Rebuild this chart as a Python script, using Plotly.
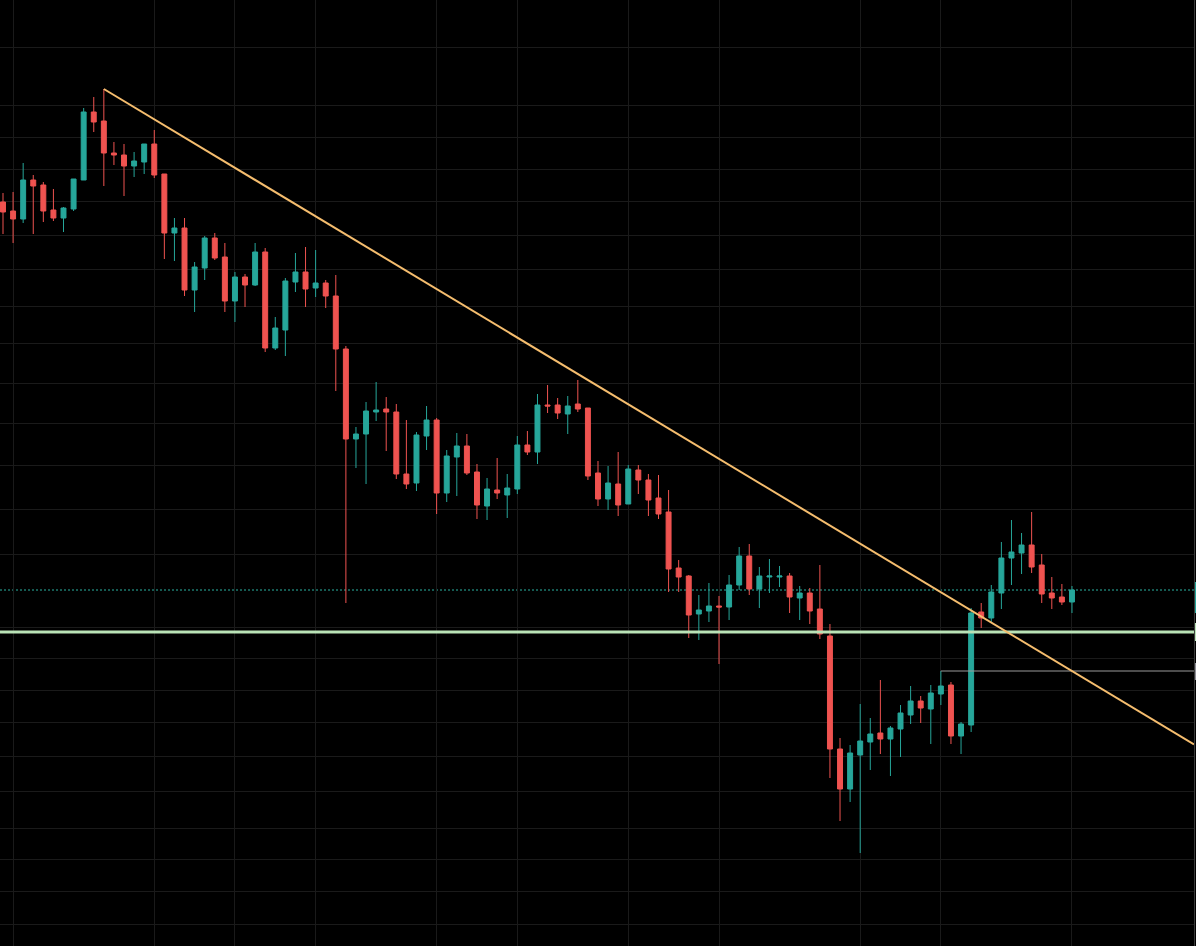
import plotly.graph_objects as go

# Candle index (one per bar)
idx = list(range(107))

opens = [1.798, 1.789, 1.781, 1.820, 1.815, 1.790, 1.782, 1.791, 1.820, 1.888,
         1.879, 1.847, 1.845, 1.834, 1.838, 1.856, 1.826, 1.767, 1.772, 1.710,
         1.732, 1.762, 1.743, 1.699, 1.723, 1.715, 1.748, 1.652, 1.670, 1.718,
         1.728, 1.712, 1.717, 1.704, 1.651, 1.561, 1.566, 1.588, 1.591, 1.588,
         1.526, 1.517, 1.564, 1.580, 1.507, 1.543, 1.554, 1.528, 1.494, 1.510,
         1.505, 1.511, 1.555, 1.548, 1.595, 1.595, 1.586, 1.596, 1.592, 1.527,
         1.501, 1.516, 1.496, 1.530, 1.520, 1.502, 1.488, 1.432, 1.424, 1.386,
         1.389, 1.394, 1.393, 1.415, 1.444, 1.411, 1.423, 1.423, 1.424, 1.402,
         1.407, 1.391, 1.364, 1.251, 1.211, 1.245, 1.258, 1.267, 1.261, 1.271,
         1.285, 1.299, 1.291, 1.306, 1.315, 1.264, 1.275, 1.388, 1.382, 1.407,
         1.442, 1.447, 1.455, 1.435, 1.407, 1.403, 1.398]
highs = [1.807, 1.808, 1.837, 1.825, 1.818, 1.811, 1.793, 1.821, 1.892, 1.903,
         1.911, 1.858, 1.856, 1.848, 1.856, 1.870, 1.826, 1.782, 1.782, 1.738,
         1.764, 1.767, 1.757, 1.728, 1.726, 1.757, 1.752, 1.683, 1.722, 1.747,
         1.753, 1.750, 1.720, 1.725, 1.654, 1.573, 1.598, 1.618, 1.603, 1.596,
         1.580, 1.568, 1.594, 1.582, 1.550, 1.567, 1.566, 1.536, 1.522, 1.542,
         1.526, 1.564, 1.569, 1.606, 1.615, 1.602, 1.604, 1.620, 1.592, 1.539,
         1.534, 1.548, 1.535, 1.535, 1.526, 1.525, 1.510, 1.440, 1.425, 1.405,
         1.417, 1.404, 1.425, 1.453, 1.456, 1.433, 1.441, 1.434, 1.427, 1.414,
         1.412, 1.435, 1.376, 1.262, 1.255, 1.296, 1.282, 1.320, 1.274, 1.295,
         1.314, 1.304, 1.315, 1.329, 1.318, 1.278, 1.392, 1.397, 1.415, 1.458,
         1.480, 1.467, 1.488, 1.446, 1.423, 1.416, 1.414]
lows = [1.766, 1.757, 1.777, 1.766, 1.778, 1.779, 1.768, 1.789, 1.820, 1.868,
        1.814, 1.835, 1.804, 1.823, 1.826, 1.822, 1.741, 1.739, 1.704, 1.688,
        1.720, 1.740, 1.688, 1.678, 1.693, 1.714, 1.648, 1.650, 1.644, 1.708,
        1.693, 1.703, 1.692, 1.609, 1.397, 1.532, 1.516, 1.579, 1.549, 1.521,
        1.511, 1.509, 1.550, 1.486, 1.498, 1.504, 1.525, 1.481, 1.480, 1.501,
        1.482, 1.506, 1.545, 1.536, 1.587, 1.581, 1.566, 1.588, 1.520, 1.494,
        1.490, 1.484, 1.496, 1.506, 1.484, 1.481, 1.408, 1.408, 1.362, 1.360,
        1.378, 1.336, 1.380, 1.410, 1.405, 1.392, 1.407, 1.413, 1.387, 1.380,
        1.376, 1.361, 1.222, 1.179, 1.198, 1.147, 1.230, 1.246, 1.224, 1.243,
        1.276, 1.277, 1.256, 1.295, 1.256, 1.246, 1.268, 1.372, 1.377, 1.391,
        1.415, 1.426, 1.427, 1.397, 1.391, 1.395, 1.387]
closes = [1.788, 1.781, 1.820, 1.814, 1.789, 1.782, 1.792, 1.821, 1.888, 1.878,
          1.847, 1.845, 1.834, 1.839, 1.856, 1.825, 1.767, 1.772, 1.710, 1.733,
          1.762, 1.742, 1.699, 1.723, 1.715, 1.748, 1.652, 1.672, 1.719, 1.728,
          1.711, 1.717, 1.704, 1.651, 1.561, 1.566, 1.589, 1.590, 1.588, 1.526,
          1.516, 1.565, 1.580, 1.507, 1.544, 1.554, 1.527, 1.495, 1.511, 1.507,
          1.512, 1.555, 1.548, 1.595, 1.594, 1.587, 1.594, 1.591, 1.524, 1.501,
          1.517, 1.495, 1.531, 1.520, 1.500, 1.486, 1.431, 1.423, 1.385, 1.390,
          1.394, 1.393, 1.415, 1.444, 1.411, 1.424, 1.424, 1.424, 1.403, 1.407,
          1.389, 1.366, 1.251, 1.211, 1.247, 1.259, 1.266, 1.261, 1.272, 1.287,
          1.299, 1.292, 1.307, 1.314, 1.264, 1.276, 1.387, 1.382, 1.408, 1.442,
          1.448, 1.455, 1.433, 1.406, 1.402, 1.398, 1.410]

# Drawings
trend_x = [10, 106]
trend_y = [1.911, 1.329]
support_level = 1.368
last_price = 1.410
resist_start = 93
resist_level = 1.329

# Grid positions
grid_x = [1, 15, 23, 31, 43, 51, 62, 71, 85, 93, 106]
grid_y = [1.953, 1.895, 1.863, 1.831, 1.799, 1.765, 1.731, 1.694, 1.657, 1.617,
          1.577, 1.535, 1.491, 1.446, 1.373, 1.342, 1.310, 1.278, 1.244,
          1.209, 1.172, 1.141, 1.109, 1.076]

X_RANGE = [-0.297, 118.1]
Y_RANGE = [1.054, 2.0]

UP = "#26a69a"
DOWN = "#ef5350"

fig = go.Figure()
fig.add_trace(go.Candlestick(
    x=idx, open=opens, high=highs, low=lows, close=closes,
    increasing=dict(line=dict(color=UP, width=1), fillcolor=UP),
    decreasing=dict(line=dict(color=DOWN, width=1), fillcolor=DOWN),
    whiskerwidth=0, hoverinfo="skip", showlegend=False,
))

# extend trendline to right edge
slope = (trend_y[1] - trend_y[0]) / (trend_x[1] - trend_x[0])
x_end = X_RANGE[1]
y_end = trend_y[0] + slope * (x_end - trend_x[0])

shapes = []
# last price dotted line
shapes.append(dict(type="line", xref="paper", x0=0, x1=1, yref="y", y0=last_price, y1=last_price,
                   line=dict(color="#2bb3a3", width=1, dash="2px,2px"), layer="below"))
# support line
shapes.append(dict(type="line", xref="paper", x0=0, x1=1, yref="y", y0=support_level, y1=support_level,
                   line=dict(color="#b9e2b6", width=3)))
# grey horizontal ray
shapes.append(dict(type="line", xref="x", x0=resist_start, x1=x_end, yref="y", y0=resist_level, y1=resist_level,
                   line=dict(color="#9a9a9a", width=1)))
# trendline
shapes.append(dict(type="line", xref="x", x0=trend_x[0], x1=x_end, yref="y", y0=trend_y[0], y1=y_end,
                   line=dict(color="#f5bd6e", width=2)))
# right-edge price tags (cut off)
shapes.append(dict(type="rect", xref="paper", x0=1.0008, x1=1.003, yref="y", y0=1.387, y1=1.418,
                   fillcolor=UP, line=dict(width=0)))
shapes.append(dict(type="rect", xref="paper", x0=1.0008, x1=1.003, yref="y", y0=1.359, y1=1.377,
                   fillcolor="#b9e2b6", line=dict(width=0)))
shapes.append(dict(type="rect", xref="paper", x0=1.0008, x1=1.003, yref="y", y0=1.320, y1=1.337,
                   fillcolor="#8f8f96", line=dict(width=0)))

fig.update_layout(
    width=1196, height=946,
    margin=dict(l=0, r=2, t=0, b=0),
    paper_bgcolor="#000000", plot_bgcolor="#000000",
    shapes=shapes,
    showlegend=False,
    hovermode=False,
    xaxis=dict(range=X_RANGE, rangeslider=dict(visible=False), tickvals=grid_x,
               showticklabels=False, showgrid=True, gridcolor="#1a1a1a", gridwidth=1,
               zeroline=False, showline=False, ticks=""),
    yaxis=dict(range=Y_RANGE, tickvals=grid_y, showticklabels=False, side="right",
               showgrid=True, gridcolor="#1a1a1a", gridwidth=1, zeroline=False,
               showline=True, linecolor="#3a3a3a", linewidth=1, ticks=""),
)

fig.write_html("out.html")
